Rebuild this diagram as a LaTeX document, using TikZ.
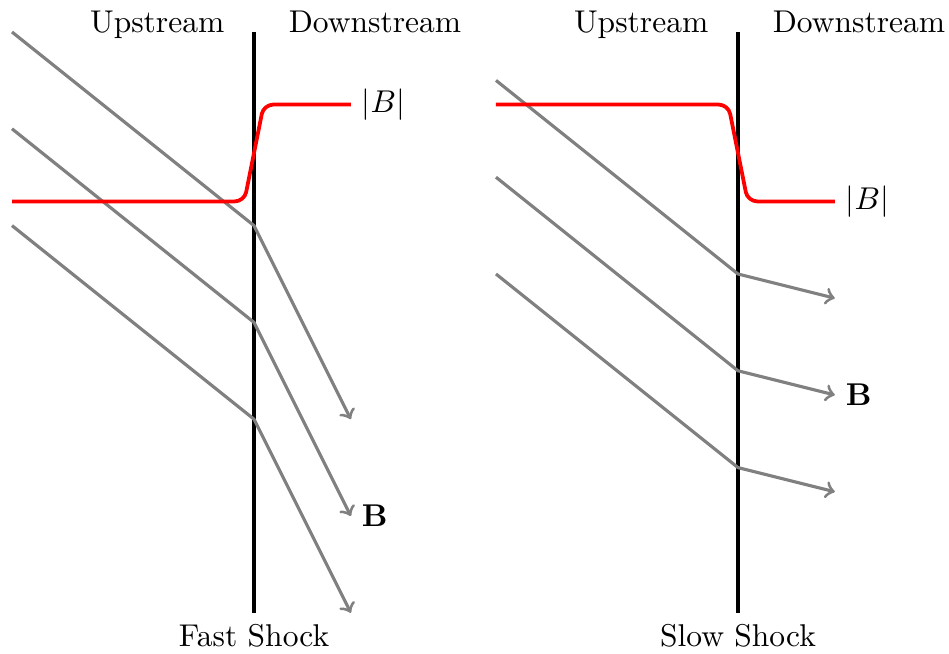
\documentclass[tikz,border=0pt]{standalone}
\begin{document}
\begin{tikzpicture}[x=0.54cm,y=0.54cm,
    field/.style={->,line width=1pt,draw=gray},
    shockline/.style={line width=1.2pt,draw=black},
    magn/.style={line width=1.2pt,draw=red,rounded corners=3pt}]
    \useasboundingbox (-0.248,-12.851) rectangle (19.36,0.661);

    % Fast Shock
    \draw[shockline] (5,0) coordinate (fasttop) -- (5,-12) coordinate (fastbot);
    \node[below] (fastname) at (fastbot) {Fast Shock};
    \node[anchor=base] (fastup) at (3,0) {Upstream};
    \node[anchor=base] (fastdown) at (7.5,0) {Downstream};
    % field lines bent away from the normal
    \foreach \y in {0,-2,-4}
        \draw[field] (0,\y) -- (5,\y-4) -- (7,\y-8);
    % |B| rises
    \draw[magn] (0,-3.5) -- (4.8,-3.5) -- (5.2,-1.5) -- (7,-1.5) coordinate (fastmagn);
    \node[right] (fastmagnlabel) at (fastmagn) {$|B|$};
    \node[right] (fastB) at (7,-10) {$\mathbf{B}$};

    % Slow Shock
    \draw[shockline] (15,0) coordinate (slowtop) -- (15,-12) coordinate (slowbot);
    \node[below] (slowname) at (slowbot) {Slow Shock};
    \node[anchor=base] (slowup) at (13,0) {Upstream};
    \node[anchor=base] (slowdown) at (17.5,0) {Downstream};
    % field lines bent towards the normal
    \foreach \y in {-1,-3,-5}
        \draw[field] (10,\y) -- (15,\y-4) -- (17,\y-4.5);
    % |B| drops
    \draw[magn] (10,-1.5) -- (14.8,-1.5) -- (15.2,-3.5) -- (17,-3.5) coordinate (slowmagn);
    \node[right] (slowmagnlabel) at (slowmagn) {$|B|$};
    \node[right] (slowB) at (17,-7.5) {$\mathbf{B}$};
\end{tikzpicture}
\end{document}
